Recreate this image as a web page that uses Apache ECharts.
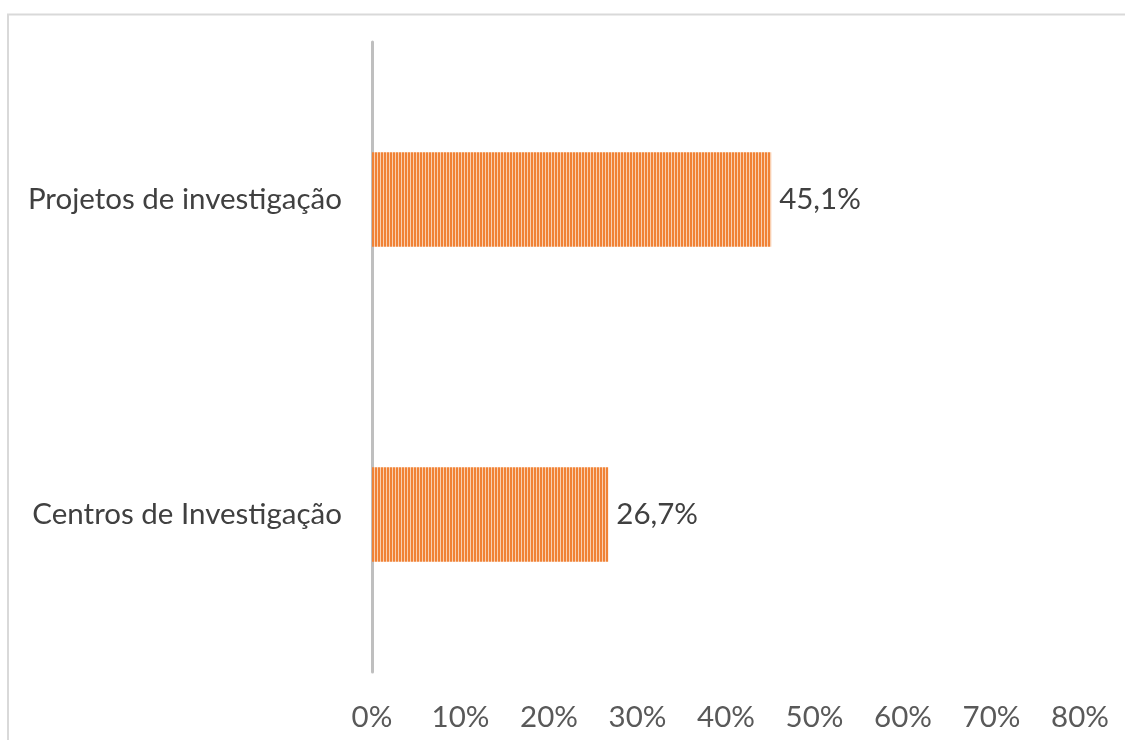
<!DOCTYPE html>
<html><head><meta charset="utf-8">
<script src="https://cdn.jsdelivr.net/npm/echarts@6/dist/echarts.min.js"></script>
<style>html,body{margin:0;padding:0;background:#fff}#c{width:1125px;height:740px}</style>
</head><body><div id="c"></div>
<script>
const categories = ['Centros de Investigação', 'Projetos de investigação'];
const values = [26.7, 45.1];
const tickLabels = ['0%','10%','20%','30%','40%','50%','60%','70%','80%'];

function stripe(){
  const cv = document.createElement('canvas');
  cv.width = 3; cv.height = 4;
  const ctx = cv.getContext('2d');
  ctx.fillStyle = '#F9CFB0'; ctx.fillRect(0,0,3,4);
  ctx.fillStyle = '#F08236'; ctx.fillRect(0,0,2,4);
  return cv;
}
const chart = echarts.init(document.getElementById('c'), null, {renderer:'canvas'});
const font = 'Lato';
const fs = 29.5;
chart.setOption({
  animation:false,
  graphic:[{type:'polyline', shape:{points:[[8,740],[8,14.5],[1125,14.5]]}, style:{stroke:'#D9D9D9', lineWidth:2, fill:null}}],
  grid:{left:372, right:45, top:42, bottom:68},
  xAxis:{type:'value', min:0, max:80, interval:10,
    axisLine:{show:false}, axisTick:{show:false}, splitLine:{show:false},
    axisLabel:{formatter:(v)=>tickLabels[Math.round(v/10)], color:'#595959', fontSize:fs, fontFamily:font, margin:30}},
  yAxis:{type:'category', data:categories,
    axisLine:{show:true, lineStyle:{color:'#BFBFBF', width:3}}, axisTick:{show:false},
    axisLabel:{color:'#404040', fontSize:fs, fontFamily:font, margin:30}},
  series:[{type:'bar', data:values, barWidth:'30%',
    itemStyle:{color:{image:stripe(), repeat:'repeat'}},
    label:{show:true, position:'right', distance:8, color:'#404040', fontSize:fs, fontFamily:font,
      formatter:(p)=>p.value.toFixed(1).replace('.',',')+'%'}}]
});
</script></body></html>
